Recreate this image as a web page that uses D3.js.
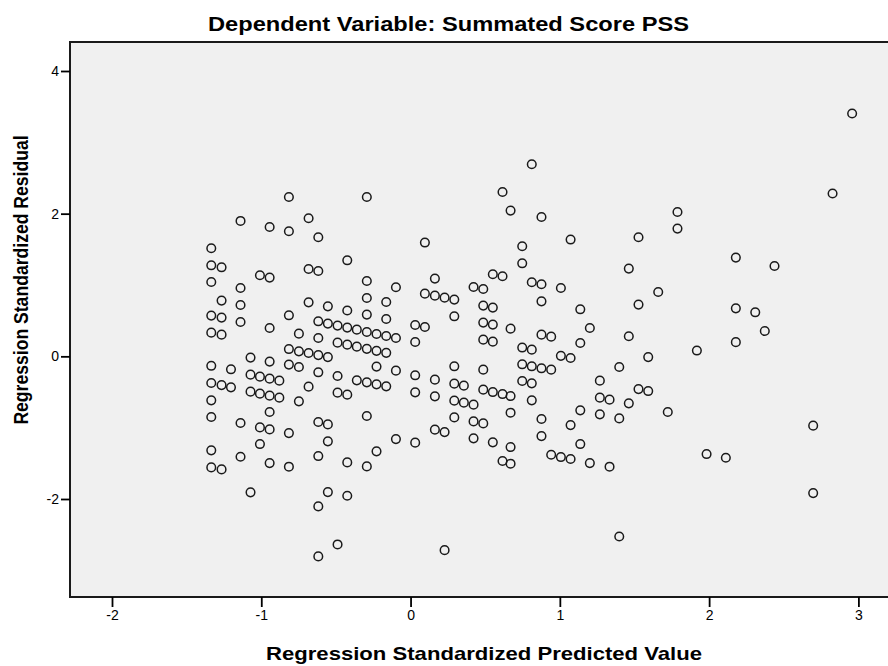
<!DOCTYPE html>
<html>
<head>
<meta charset="utf-8">
<script src="https://cdn.jsdelivr.net/npm/d3@7"></script>
<style>
    body { margin: 0; background: #ffffff; }
    text { font-family: "Liberation Sans", Arial, sans-serif; fill: #000000; }
    .tick text { font-size: 14px; }
    .tick line { stroke: #000000; stroke-width: 1.8; }
</style>
</head>
<body>
<div id="chartDiv"></div>
<script>
"use strict";

// chart texts
var titleText = "Dependent Variable: Summated Score PSS";
var xLabelText = "Regression Standardized Predicted Value";
var yLabelText = "Regression Standardized Residual";

// axis ticks
var xTicks = [-2, -1, 0, 1, 2, 3];
var yTicks = [-2, 0, 2, 4];

// predicted values come in columns, each column has its own residuals
var predicted = [-1.335, -1.266, -1.203, -1.139, -1.072, -1.009, -0.944, -0.879, -0.815, -0.748,
                 -0.683, -0.618, -0.554, -0.489, -0.424, -0.360, -0.293, -0.228, -0.163, -0.098,
                 0.031, 0.096, 0.163, 0.228, 0.293, 0.357, 0.422, 0.487, 0.551, 0.616,
                 0.670, 0.748, 0.812, 0.877, 0.942, 1.007, 1.072, 1.137, 1.201, 1.268,
                 1.333, 1.398, 1.462, 1.527, 1.592, 1.659, 1.723, 1.788, 1.918, 1.983,
                 2.112, 2.179, 2.309, 2.373, 2.438, 2.697, 2.827, 2.958];

var residuals = [
    [1.515, 1.276, 1.042, 0.571, 0.332, -0.133, -0.374, -0.617, -0.851, -1.318, -1.557],
    [1.248, 0.781, 0.543, 0.304, -0.403, -1.585],
    [-0.182, -0.435],
    [1.898, 0.958, 0.720, 0.481, -0.935, -1.407],
    [-0.018, -0.257, -0.495, -1.907],
    [1.136, -0.285, -0.523, -0.996, -1.230],
    [1.813, 1.104, 0.397, -0.074, -0.313, -0.551, -0.781, -1.024, -1.497],
    [-0.341, -0.579],
    [2.234, 1.753, 0.575, 0.102, -0.116, -1.076, -1.547],
    [0.318, 0.070, -0.150, -0.631],
    [1.935, 1.224, 0.757, 0.046, -0.425],
    [1.669, 1.196, 0.491, 0.257, 0.017, -0.224, -0.921, -1.398, -2.104, -2.805],
    [0.701, 0.459, -0.011, -0.954, -1.192, -1.903],
    [0.431, 0.192, -0.276, -0.509, -2.637],
    [1.346, 0.642, 0.403, 0.164, -0.537, -1.487, -1.954],
    [0.374, 0.136, -0.337],
    [2.234, 1.056, 0.818, 0.585, 0.341, 0.105, -0.365, -0.837, -1.543],
    [0.313, 0.077, -0.144, -0.393, -1.332],
    [0.762, 0.523, 0.285, 0.049, -0.421],
    [0.968, 0.257, -0.201, -1.160],
    [0.439, 0.201, -0.266, -0.505, -1.210],
    [1.595, 0.879, 0.411],
    [1.090, 0.851, -0.327, -0.561, -1.028],
    [0.823, -1.062, -2.717],
    [0.795, 0.561, -0.140, -0.383, -0.621, -0.856],
    [-0.411, -0.649],
    [0.972, -0.677, -0.912, -1.150],
    [0.944, 0.711, 0.473, 0.234, -0.187, -0.467, -0.940],
    [1.150, 0.683, 0.445, 0.206, -0.501, -1.206],
    [2.304, 1.122, -0.529, -1.468],
    [2.043, 0.388, -0.557, -0.790, -1.272, -1.505],
    [1.543, 1.304, 0.123, -0.112, -0.346],
    [2.693, 1.038, 0.094, -0.140, -0.379, -0.617],
    [1.954, 1.010, 0.771, 0.304, -0.168, -0.879, -1.118],
    [0.276, -0.187, -1.379],
    [0.958, 0.007, -1.412],
    [1.637, -0.024, -0.964, -1.440],
    [0.659, 0.187, -0.757, -1.230],
    [0.397, -1.497],
    [-0.341, -0.579, -0.813],
    [-0.607, -1.547],
    [-0.150, -0.870, -2.525],
    [1.230, 0.281, -0.659],
    [1.669, 0.725, -0.459],
    [-0.011, -0.487],
    [0.902],
    [-0.781],
    [2.024, 1.791],
    [0.081],
    [-1.370],
    [-1.421],
    [1.384, 0.673, 0.199],
    [0.617],
    [0.355],
    [1.266],
    [-0.972, -1.917],
    [2.282],
    [3.404]
];

// svg element parameters
var svgWidth = 888;
var svgHeight = 666;
var frame = {left: 70, right: 892, top: 42, bottom: 597};
var pointRadius = 4.3;

var svg, xScale, yScale, points;

svg = d3.select("#chartDiv").append("svg").attr("width", svgWidth).attr("height", svgHeight);

// scales are pinned on the tick marks of the picture
xScale = d3.scaleLinear().domain([-2, 3]).range([112, 858.4]);
yScale = d3.scaleLinear().domain([-2, 4]).range([499, 71]);

// flatten the columns into single points
points = [];
predicted.forEach(function (p, i) {
    residuals[i].forEach(function (r) {
        points.push({x: p, y: r});
    });
});

render();

// plain hyphen minus like the picture, not the unicode minus of d3.format
function tickLabel(d) {
    return String(d);
}

function render() {
    // plot background with its frame
    svg.append("rect")
        .attr("x", frame.left)
        .attr("y", frame.top)
        .attr("width", frame.right - frame.left)
        .attr("height", frame.bottom - frame.top)
        .attr("fill", "#f0f0f0")
        .attr("stroke", "#1a1a1a")
        .attr("stroke-width", 2);

    // axes, domain line is the frame itself
    var xAxis = svg.append("g")
        .attr("transform", "translate(0," + frame.bottom + ")")
        .call(d3.axisBottom(xScale).tickValues(xTicks).tickSize(10).tickPadding(3).tickFormat(tickLabel));
    xAxis.select(".domain").remove();

    var yAxis = svg.append("g")
        .attr("transform", "translate(" + frame.left + ",0)")
        .call(d3.axisLeft(yScale).tickValues(yTicks).tickSize(9).tickPadding(2).tickFormat(tickLabel));
    yAxis.select(".domain").remove();

    // residual markers
    svg.append("g").attr("class", "points")
        .selectAll("circle")
        .data(points)
        .enter()
        .append("circle")
        .attr("cx", function (d) { return xScale(d.x); })
        .attr("cy", function (d) { return yScale(d.y); })
        .attr("r", pointRadius)
        .attr("fill", "none")
        .attr("stroke", "#1a1a1a")
        .attr("stroke-width", 1.5);

    // title and axis labels, the text in the picture is a bit wide
    svg.append("text")
        .attr("x", 448.5)
        .attr("y", 31)
        .attr("text-anchor", "middle")
        .attr("font-size", 19.5)
        .attr("font-weight", "bold")
        .attr("textLength", 481)
        .attr("lengthAdjust", "spacingAndGlyphs")
        .text(titleText);

    svg.append("text")
        .attr("x", 484)
        .attr("y", 660)
        .attr("text-anchor", "middle")
        .attr("font-size", 18.5)
        .attr("font-weight", "bold")
        .attr("textLength", 436)
        .attr("lengthAdjust", "spacingAndGlyphs")
        .text(xLabelText);

    svg.append("text")
        .attr("transform", "translate(28,280) scale(1.2,1) rotate(-90)")
        .attr("text-anchor", "middle")
        .attr("font-size", 17.6)
        .attr("font-weight", "bold")
        .text(yLabelText);
}
</script>
</body>
</html>
